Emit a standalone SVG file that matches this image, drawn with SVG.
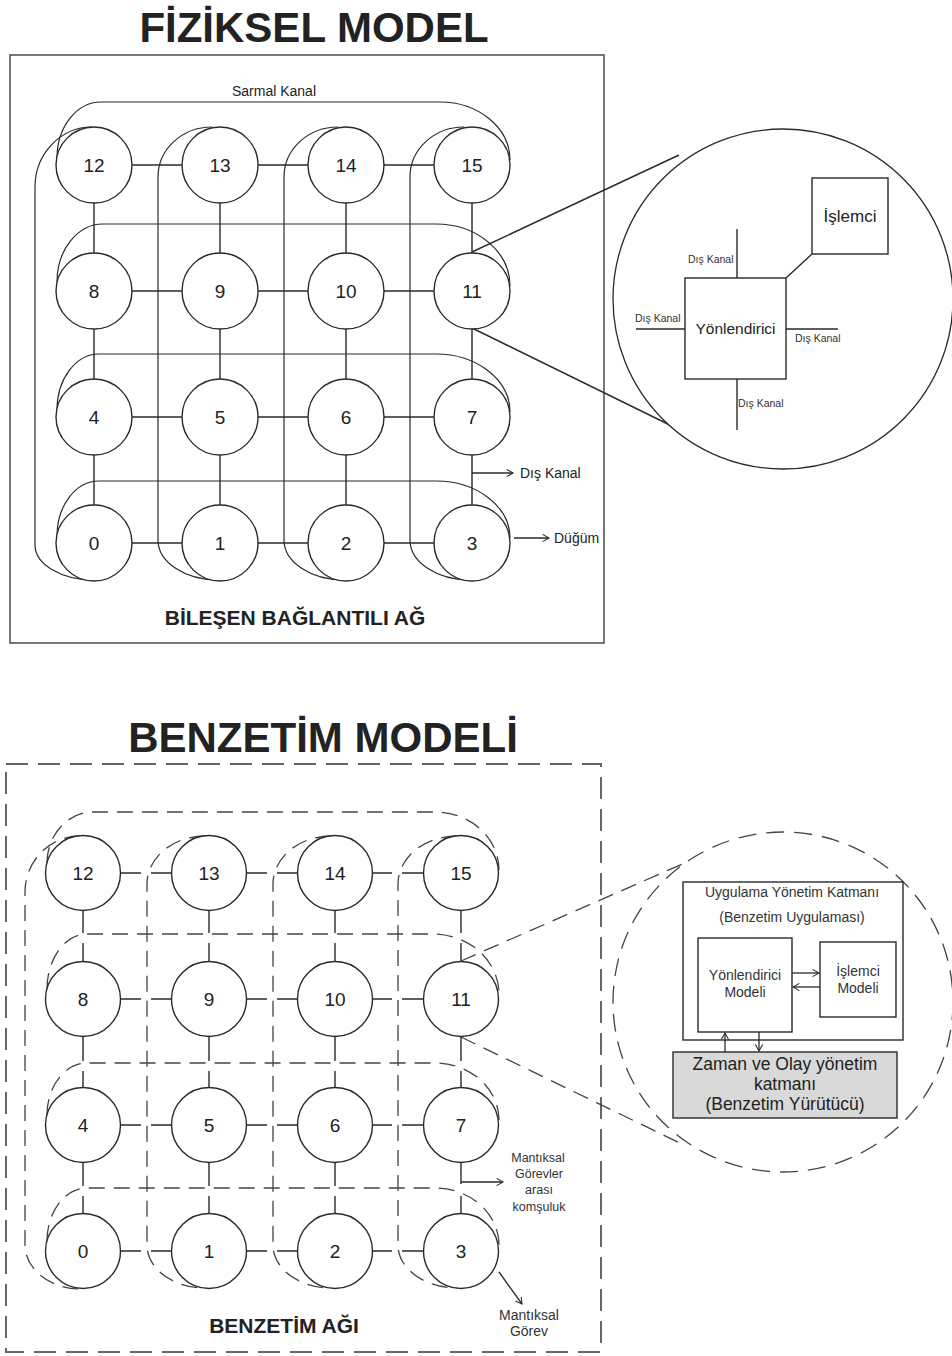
<svg xmlns="http://www.w3.org/2000/svg" width="952" height="1356" viewBox="0 0 952 1356">
<style>
  text { font-family: "Liberation Sans", Arial, sans-serif; fill: #222; }
  .title { font-size: 42px; font-weight: bold; text-anchor: middle; }
  .sub { font-size: 21px; font-weight: bold; text-anchor: middle; }
  .num { font-size: 19px; text-anchor: middle; }
  .lbl { font-size: 14px; }
  .small { font-size: 10.5px; fill: #333; }
  .mid { text-anchor: middle; }
  .node circle { fill: #fff; stroke: #2a2a2a; stroke-width: 1.4; }
  .wire { stroke: #2a2a2a; stroke-width: 1.4; fill: none; }
  .wrap { stroke: #2a2a2a; stroke-width: 1.2; fill: none; }
  .dwrap { stroke: #444; stroke-width: 1.3; fill: none; stroke-dasharray: 16 9; }
  .frame { fill: none; stroke: #555; stroke-width: 1.6; }
  .dframe { fill: none; stroke: #666; stroke-width: 2; stroke-dasharray: 22 10; }
  .box { fill: #fff; stroke: #2a2a2a; stroke-width: 1.4; }
  .arr { stroke: #2a2a2a; stroke-width: 1.3; fill: none; marker-end: url(#open); }
</style>
<defs>
  <marker id="open" viewBox="0 0 10 10" refX="9" refY="5" markerWidth="8" markerHeight="9" markerUnits="userSpaceOnUse" orient="auto">
    <path d="M1,0.5 L9,5 L1,9.5" fill="none" stroke="#2a2a2a" stroke-width="1.3"/>
  </marker>
</defs>

<!-- ===== Physical model ===== -->
<text class="title" x="314" y="42">FİZİKSEL MODEL</text>
<rect class="frame" x="10" y="55" width="594" height="588"/>

<g id="phys-connectors">
  <!-- mesh links -->
  <path class="wire" d="M132 165H182M258 165H308M384 165H434
                        M132 291H182M258 291H308M384 291H434
                        M132 417H182M258 417H308M384 417H434
                        M132 543H182M258 543H308M384 543H434
                        M94 203V253M94 329V379M94 455V505
                        M220 203V253M220 329V379M220 455V505
                        M346 203V253M346 329V379M346 455V505
                        M472 203V253M472 329V379M472 455V505"/>
  <!-- row wrap-around (torus) channels -->
  <path class="wrap" d="M57 158 A44 56 0 0 1 101 102 H440 A70 58 0 0 1 510 160"/>
  <path class="wrap" d="M57 282 A46 58 0 0 1 103 224 H436 A74 62 0 0 1 510 286"/>
  <path class="wrap" d="M57 410 A42 56 0 0 1 99 354 H436 A74 58 0 0 1 510 412"/>
  <path class="wrap" d="M57 536 A42 55 0 0 1 99 481 H436 A74 57 0 0 1 510 538"/>
  <!-- column wrap-around channels -->
  <path class="wrap" d="M92 127 A57 60 0 0 0 35 187 V545 A59 35 0 0 0 94 580"/>
  <path class="wrap" d="M212 127 A54 50 0 0 0 158 177 V540 A60 40 0 0 0 218 580"/>
  <path class="wrap" d="M338 127 A54 50 0 0 0 284 177 V540 A60 40 0 0 0 344 580"/>
  <path class="wrap" d="M464 127 A54 50 0 0 0 410 177 V540 A60 40 0 0 0 470 580"/>
  <!-- callouts -->
  <path class="arr" d="M472 473 H513"/>
  <path class="arr" d="M514 538 H549"/>
  <!-- zoom lines to detail view -->
  <path class="wire" d="M472 252 L679 155 M472 328 L680 430"/>
</g>

<g id="phys-nodes">
  <g id="p12" class="node"><circle cx="94" cy="165" r="38"/><text class="num" x="94" y="172">12</text></g>
  <g id="p13" class="node"><circle cx="220" cy="165" r="38"/><text class="num" x="220" y="172">13</text></g>
  <g id="p14" class="node"><circle cx="346" cy="165" r="38"/><text class="num" x="346" y="172">14</text></g>
  <g id="p15" class="node"><circle cx="472" cy="165" r="38"/><text class="num" x="472" y="172">15</text></g>
  <g id="p8" class="node"><circle cx="94" cy="291" r="38"/><text class="num" x="94" y="298">8</text></g>
  <g id="p9" class="node"><circle cx="220" cy="291" r="38"/><text class="num" x="220" y="298">9</text></g>
  <g id="p10" class="node"><circle cx="346" cy="291" r="38"/><text class="num" x="346" y="298">10</text></g>
  <g id="p11" class="node"><circle cx="472" cy="291" r="38"/><text class="num" x="472" y="298">11</text></g>
  <g id="p4" class="node"><circle cx="94" cy="417" r="38"/><text class="num" x="94" y="424">4</text></g>
  <g id="p5" class="node"><circle cx="220" cy="417" r="38"/><text class="num" x="220" y="424">5</text></g>
  <g id="p6" class="node"><circle cx="346" cy="417" r="38"/><text class="num" x="346" y="424">6</text></g>
  <g id="p7" class="node"><circle cx="472" cy="417" r="38"/><text class="num" x="472" y="424">7</text></g>
  <g id="p0" class="node"><circle cx="94" cy="543" r="38"/><text class="num" x="94" y="550">0</text></g>
  <g id="p1" class="node"><circle cx="220" cy="543" r="38"/><text class="num" x="220" y="550">1</text></g>
  <g id="p2" class="node"><circle cx="346" cy="543" r="38"/><text class="num" x="346" y="550">2</text></g>
  <g id="p3" class="node"><circle cx="472" cy="543" r="38"/><text class="num" x="472" y="550">3</text></g>
</g>

<text class="lbl mid" x="274" y="96">Sarmal Kanal</text>
<text class="lbl" x="520" y="478">Dış Kanal</text>
<text class="lbl" x="554" y="543">Düğüm</text>
<text class="sub" x="295" y="625">BİLEŞEN BAĞLANTILI AĞ</text>

<!-- physical detail: router + processor -->
<g id="phys-detail">
  <circle cx="783" cy="299" r="170" fill="#fff" stroke="#2a2a2a" stroke-width="1.3"/>
  <path class="wire" d="M737 229V278 M737 379V430 M636 329H685 M786 329H838 M786 278 L812 254"/>
  <g id="router"><rect class="box" x="685" y="278" width="101" height="101"/>
    <text x="735.5" y="334" class="mid" style="font-size:15.5px">Yönlendirici</text></g>
  <g id="cpu"><rect class="box" x="812" y="178" width="76" height="76"/>
    <text x="850" y="222" class="mid" style="font-size:17px">İşlemci</text></g>
  <text class="small" x="688" y="263">Dış Kanal</text>
  <text class="small" x="635" y="322">Dış Kanal</text>
  <text class="small" x="795" y="342">Dış Kanal</text>
  <text class="small" x="738" y="407">Dış Kanal</text>
</g>

<!-- ===== Simulation model ===== -->
<text class="title" x="323" y="752">BENZETİM MODELİ</text>
<rect class="dframe" x="6" y="764" width="595" height="588"/>

<g id="sim-connectors">
  <!-- mesh links, broken where the dashed task borders pass -->
  <path class="wire" d="M120.5 873H141M151 873H171.5M246.5 873H267M277 873H297.5M372.5 873H392M402 873H423.5
                        M120.5 999H141M151 999H171.5M246.5 999H267M277 999H297.5M372.5 999H392M402 999H423.5
                        M120.5 1125H141M151 1125H171.5M246.5 1125H267M277 1125H297.5M372.5 1125H392M402 1125H423.5
                        M120.5 1251H141M151 1251H171.5M246.5 1251H267M277 1251H297.5M372.5 1251H392M402 1251H423.5
                        M83 910.5V933M83 943V961.5M83 1036.5V1061M83 1071V1087.5M83 1162.5V1186M83 1196V1213.5
                        M209 910.5V933M209 943V961.5M209 1036.5V1061M209 1071V1087.5M209 1162.5V1186M209 1196V1213.5
                        M335 910.5V933M335 943V961.5M335 1036.5V1061M335 1071V1087.5M335 1162.5V1186M335 1196V1213.5
                        M461 910.5V933M461 943V961.5M461 1036.5V1061M461 1071V1087.5M461 1162.5V1184M461 1196V1213.5"/>
  <!-- logical task rows -->
  <path class="dwrap" d="M47 863 A46 51 0 0 1 93 812 H435 A64 58 0 0 1 499 870"/>
  <path class="dwrap" d="M47 989 A40 55 0 0 1 87 934 H433 A66 60 0 0 1 499 994"/>
  <path class="dwrap" d="M47 1115 A40 52 0 0 1 87 1063 H435 A64 57 0 0 1 499 1120"/>
  <path class="dwrap" d="M47 1241 A40 53 0 0 1 87 1188 H435 A64 57 0 0 1 499 1245"/>
  <!-- logical task columns -->
  <path class="dwrap" d="M80 836 A55 56 0 0 0 25 892 V1245 A56 44 0 0 0 81 1289"/>
  <path class="dwrap" d="M205 836 A58 48 0 0 0 147 884 V1245 A58 43 0 0 0 205 1288"/>
  <path class="dwrap" d="M331 836 A58 48 0 0 0 273 884 V1245 A58 43 0 0 0 331 1288"/>
  <path class="dwrap" d="M457 836 A59 48 0 0 0 398 884 V1245 A59 43 0 0 0 457 1288"/>
  <!-- callouts -->
  <path class="arr" d="M461 1182 H503"/>
  <path class="arr" d="M499 1272 L522 1304"/>
  <!-- zoom lines to detail view -->
  <path class="dwrap" d="M461 961 L687 862 M461 1037 L684 1145"/>
</g>

<g id="sim-nodes">
  <g id="s12" class="node"><circle cx="83" cy="873" r="37.5"/><text class="num" x="83" y="880">12</text></g>
  <g id="s13" class="node"><circle cx="209" cy="873" r="37.5"/><text class="num" x="209" y="880">13</text></g>
  <g id="s14" class="node"><circle cx="335" cy="873" r="37.5"/><text class="num" x="335" y="880">14</text></g>
  <g id="s15" class="node"><circle cx="461" cy="873" r="37.5"/><text class="num" x="461" y="880">15</text></g>
  <g id="s8" class="node"><circle cx="83" cy="999" r="37.5"/><text class="num" x="83" y="1006">8</text></g>
  <g id="s9" class="node"><circle cx="209" cy="999" r="37.5"/><text class="num" x="209" y="1006">9</text></g>
  <g id="s10" class="node"><circle cx="335" cy="999" r="37.5"/><text class="num" x="335" y="1006">10</text></g>
  <g id="s11" class="node"><circle cx="461" cy="999" r="37.5"/><text class="num" x="461" y="1006">11</text></g>
  <g id="s4" class="node"><circle cx="83" cy="1125" r="37.5"/><text class="num" x="83" y="1132">4</text></g>
  <g id="s5" class="node"><circle cx="209" cy="1125" r="37.5"/><text class="num" x="209" y="1132">5</text></g>
  <g id="s6" class="node"><circle cx="335" cy="1125" r="37.5"/><text class="num" x="335" y="1132">6</text></g>
  <g id="s7" class="node"><circle cx="461" cy="1125" r="37.5"/><text class="num" x="461" y="1132">7</text></g>
  <g id="s0" class="node"><circle cx="83" cy="1251" r="37.5"/><text class="num" x="83" y="1258">0</text></g>
  <g id="s1" class="node"><circle cx="209" cy="1251" r="37.5"/><text class="num" x="209" y="1258">1</text></g>
  <g id="s2" class="node"><circle cx="335" cy="1251" r="37.5"/><text class="num" x="335" y="1258">2</text></g>
  <g id="s3" class="node"><circle cx="461" cy="1251" r="37.5"/><text class="num" x="461" y="1258">3</text></g>
</g>

<g style="font-size:12.5px; fill:#333">
  <text class="mid" x="538" y="1162" style="fill:#333">Mantıksal</text>
  <text class="mid" x="539" y="1178" style="fill:#333">Görevler</text>
  <text class="mid" x="539" y="1194" style="fill:#333">arası</text>
  <text class="mid" x="539" y="1211" style="fill:#333">komşuluk</text>
</g>
<text class="lbl mid" x="529" y="1320" style="fill:#333">Mantıksal</text>
<text class="lbl mid" x="529" y="1336" style="fill:#333">Görev</text>
<text class="sub" x="284" y="1333">BENZETİM AĞI</text>

<!-- simulation detail: layered software stack -->
<g id="sim-detail">
  <circle cx="783" cy="1002" r="170" fill="#fff" stroke="#444" stroke-width="1.3" stroke-dasharray="18 10"/>
  <g id="app-layer"><rect class="box" x="683" y="882" width="220" height="158"/>
    <text class="mid" x="792" y="897" style="font-size:14px;fill:#333">Uygulama Yönetim Katmanı</text>
    <text class="mid" x="792" y="922" style="font-size:14px;fill:#333">(Benzetim Uygulaması)</text></g>
  <g id="router-model"><rect class="box" x="698" y="938" width="94" height="94"/>
    <text class="mid" x="745" y="980" style="font-size:14px;fill:#333">Yönlendirici</text>
    <text class="mid" x="745" y="997" style="font-size:14px;fill:#333">Modeli</text></g>
  <g id="cpu-model"><rect class="box" x="820" y="942" width="76" height="75"/>
    <text class="mid" x="858" y="976" style="font-size:14px;fill:#333">İşlemci</text>
    <text class="mid" x="858" y="993" style="font-size:14px;fill:#333">Modeli</text></g>
  <g id="exec-layer"><rect x="673" y="1052" width="224" height="66" fill="#d9d9d9" stroke="#2a2a2a" stroke-width="1.4"/>
    <text class="mid" x="785" y="1070" style="font-size:17.5px">Zaman ve Olay yönetim</text>
    <text class="mid" x="785" y="1090" style="font-size:17.5px">katmanı</text>
    <text class="mid" x="785" y="1110" style="font-size:17.5px">(Benzetim Yürütücü)</text></g>
  <path class="arr" d="M792 973 H819"/>
  <path class="arr" d="M820 987 H793"/>
  <path class="arr" d="M725 1052 V1033"/>
  <path class="arr" d="M759 1032 V1051"/>
</g>
</svg>
